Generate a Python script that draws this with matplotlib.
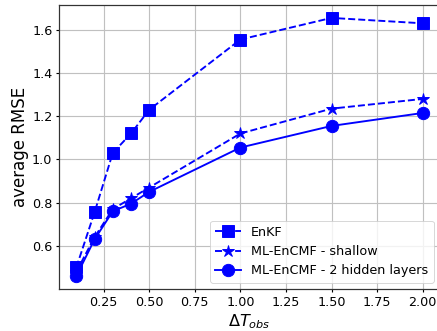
import matplotlib
matplotlib.use("Agg")
import matplotlib.pyplot as plt

dt_obs = [0.1, 0.2, 0.3, 0.4, 0.5, 1.0, 1.5, 2.0]
rmse_enkf = [0.50, 0.755, 1.03, 1.12, 1.23, 1.555, 1.655, 1.63]
rmse_shallow = [0.48, 0.64, 0.77, 0.82, 0.87, 1.12, 1.235, 1.28]
rmse_2hidden = [0.46, 0.63, 0.76, 0.795, 0.85, 1.055, 1.155, 1.215]

dpi = 68.3
fig = plt.figure(figsize=(437 / dpi, 331 / dpi), dpi=dpi)
ax = fig.add_axes([59 / 437, 42 / 331, 381 / 437, 284 / 331])

ax.plot(dt_obs, rmse_enkf, "b--", marker="s", ms=13, lw=2, label="EnKF")
ax.plot(dt_obs, rmse_shallow, "b--", marker="*", ms=13, lw=2,
        label="ML-EnCMF - shallow")
ax.plot(dt_obs, rmse_2hidden, "b-", marker="o", ms=13, lw=2,
        label="ML-EnCMF - 2 hidden layers")

ax.set_xlabel(r"$\Delta T_{obs}$", fontsize=17)
ax.set_ylabel("average RMSE", fontsize=17.5, labelpad=3)
ax.tick_params(labelsize=13.5, width=1.2)
for sp in ax.spines.values():
    sp.set_linewidth(1.3)
    sp.set_color("#333333")
ax.grid(True, lw=1.2, color="#c0c0c0")
ax.legend(loc="lower right", fontsize=13.5)

fig.savefig("out.png", dpi=dpi)
